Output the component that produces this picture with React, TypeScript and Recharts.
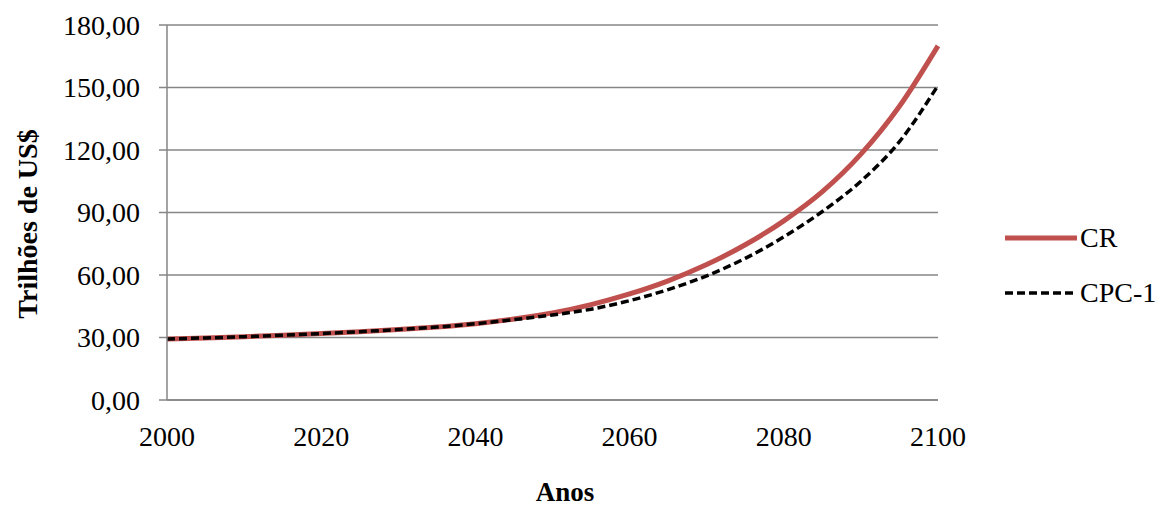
import { LineChart, Line, XAxis, YAxis, CartesianGrid } from 'recharts';

const years = [2000, 2005, 2010, 2015, 2020, 2025, 2030, 2035, 2040, 2045, 2050,
  2055, 2060, 2065, 2070, 2075, 2080, 2085, 2090, 2095, 2100];
const cr = [29.3, 29.8, 30.4, 31.1, 31.9, 32.8, 33.8, 35.0, 36.6, 38.9, 41.8,
  45.8, 50.9, 57.2, 65.0, 74.5, 86.0, 100.0, 118.0, 141.0, 170.0];
const cpc1 = [29.3, 29.8, 30.4, 31.1, 31.9, 32.8, 33.8, 35.0, 36.6, 38.6, 40.8,
  43.6, 47.7, 53.0, 59.6, 68.0, 78.3, 90.5, 105.0, 124.0, 151.0];
const xTicks = [2000, 2020, 2040, 2060, 2080, 2100];
const yTicks = [0, 30, 60, 90, 120, 150, 180];

const data = years.map((y, i) => ({ ano: y, CR: cr[i], 'CPC-1': cpc1[i] }));

const FONT = "'Times New Roman', 'Liberation Serif', 'DejaVu Serif', serif";
const GRID = '#868686';
const RED = '#C0504D';

const fmt = (v: number) => v.toFixed(2).replace('.', ',');

function LegendBox() {
  return (
    <svg width={160} height={100} style={{ position: 'absolute', left: 1003, top: 218 }}>
      <line x1={2} x2={74} y1={20} y2={20} stroke={RED} strokeWidth={5} />
      <text x={77} y={29} style={{ fontFamily: FONT, fontSize: 28 }} fill="#000">CR</text>
      <line x1={2} x2={74} y1={75} y2={75} stroke="#000" strokeWidth={3.5} strokeDasharray="8 4" />
      <text x={77} y={84} style={{ fontFamily: FONT, fontSize: 28 }} fill="#000">CPC-1</text>
    </svg>
  );
}

export default function App() {
  return (
    <div style={{ position: 'absolute', left: 0, top: 0, width: 1161, height: 506, background: '#fff', fontFamily: FONT }}>
      <LineChart width={1161} height={506} data={data}
        margin={{ top: 25, right: 223, left: 0, bottom: 0 }}>
        <CartesianGrid vertical={false} stroke={GRID} strokeWidth={1.5} />
        <XAxis dataKey="ano" type="number" domain={[2000, 2100]} ticks={xTicks}
          height={106} tickLine={false} tickSize={0} tickMargin={26}
          axisLine={{ stroke: GRID, strokeWidth: 1.5 }}
          tick={{ fill: '#000', fontSize: 28, style: { fontFamily: FONT } }}
          label={() => (
            <text x={565} y={501} textAnchor="middle" fill="#000"
              style={{ fontFamily: FONT, fontSize: 27, fontWeight: 'bold' }}>Anos</text>
          )} />
        <YAxis domain={[0, 180]} ticks={yTicks} width={167} tickSize={8} tickMargin={19}
          tickFormatter={fmt}
          axisLine={{ stroke: GRID, strokeWidth: 1.5 }}
          tickLine={{ stroke: GRID, strokeWidth: 1.5 }}
          tick={{ fill: '#000', fontSize: 28, style: { fontFamily: FONT } }}
          label={() => (
            <text x={0} y={0} transform="translate(37,224) rotate(-90)" textAnchor="middle" fill="#000"
              style={{ fontFamily: FONT, fontSize: 28, fontWeight: 'bold' }}>Trilhões de US$</text>
          )} />
        <Line type="monotone" dataKey="CR" stroke={RED} strokeWidth={5} dot={false}
          isAnimationActive={false} />
        <Line type="monotone" dataKey="CPC-1" stroke="#000" strokeWidth={3.5}
          strokeDasharray="8 4" dot={false} isAnimationActive={false} />
      </LineChart>
      <LegendBox />
    </div>
  );
}
